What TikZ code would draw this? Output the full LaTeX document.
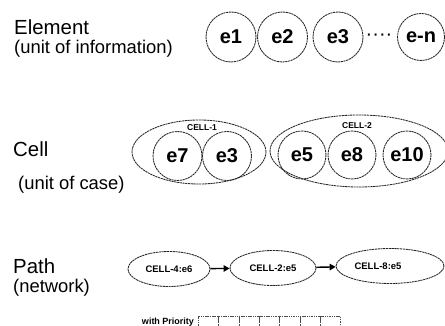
\documentclass[tikz,border=0pt]{standalone}
\usepackage{fontspec}
\setmainfont{Liberation Sans}
\usetikzlibrary{shapes.geometric,arrows.meta}
\begin{document}
\begin{tikzpicture}[x=1pt,y=-1pt,
  sketch/.style={draw=black!85, line width=0.85pt, dash pattern=on 2.2pt off 0.6pt},
  title/.style={anchor=base west, inner sep=0pt, font=\fontsize{20.4}{22}\selectfont},
  subtitle/.style={anchor=base west, inner sep=0pt, font=\fontsize{18.4}{20}\selectfont},
  elem/.style={sketch, circle, minimum size=#1, inner sep=0pt,
    font=\fontsize{20}{20}\selectfont\bfseries},
  cellbox/.style={sketch, ellipse, inner sep=0pt},
  celltag/.style={inner sep=0pt, font=\fontsize{8.5}{9}\selectfont\bfseries},
  hop/.style={sketch, ellipse, inner sep=0pt, minimum height=35pt,
    font=\fontsize{9.5}{10}\selectfont\bfseries},
  hoptext/.style={inner sep=0pt, font=\fontsize{9.5}{10}\selectfont\bfseries},
  arr/.style={line width=1.4pt, -{Triangle[length=6pt,width=6.5pt]}},
  slot/.style={draw=black!70, line width=0.6pt, dash pattern=on 1.5pt off 0.8pt,
    minimum width=20.3pt, minimum height=16pt, inner sep=0pt, anchor=north west}
]
\useasboundingbox (0,0) rectangle (445,326);

% ---- row 1: elements ----
\node[title] (tElem) at (14,35) {Element};
\node[subtitle] (sElem) at (14,54) {(unit of information)};
\node[elem=50pt] (e1) at (231,37) {e1};
\node[elem=50pt] (e2) at (282.5,37) {e2};
\node[elem=50pt] (e3) at (338,37) {e3};
\node[inner sep=0pt, font=\fontsize{20}{20}\selectfont] (dots) at (379,37) {····};
\node[elem=47pt] (en) at (421,37) {e-n};

% ---- row 2: cells ----
\node[title] (tCell) at (13,157) {Cell};
\node[subtitle] (sCell) at (18,190) {(unit of case)};
\node[cellbox, minimum width=134pt, minimum height=64pt] (cell1) at (199,152) {};
\node[celltag] (cell1t) at (202,128) {CELL-1};
\node[elem=49pt] (c1e7) at (177.5,156) {e7};
\node[elem=49pt] (c1e3) at (227,156) {e3};
\node[cellbox, minimum width=178pt, minimum height=72pt] (cell2) at (359,151) {};
\node[celltag] (cell2t) at (357,126) {CELL-2};
\node[elem=48pt] (c2e5) at (302,155) {e5};
\node[elem=48pt] (c2e8) at (352,155) {e8};
\node[elem=48pt] (c2e10) at (407,155) {e10};

% ---- row 3: path ----
\node[title] (tPath) at (13,273) {Path};
\node[subtitle] (sPath) at (13,293) {(network)};
\node[hop, minimum width=82pt] (h1) at (169,269) {CELL-4:e6};
\node[hop, minimum width=86pt] (h2) at (273,268) {CELL-2:e5};
\node[hop, minimum width=108pt] (h3) at (390,266) {};
\node[hoptext] (h3t) at (378,266) {CELL-8:e5};
\draw[arr] (h1) -- (h2);
\draw[arr] (h2) -- (h3);

% priority slots
\node[inner sep=0pt, font=\fontsize{9}{9}\selectfont\bfseries] (prio) at (168,322) {with Priority};
\foreach \i in {0,...,6}
  \node[slot] (s\i) at ({198+\i*20.3},316) {};
\end{tikzpicture}
\end{document}
